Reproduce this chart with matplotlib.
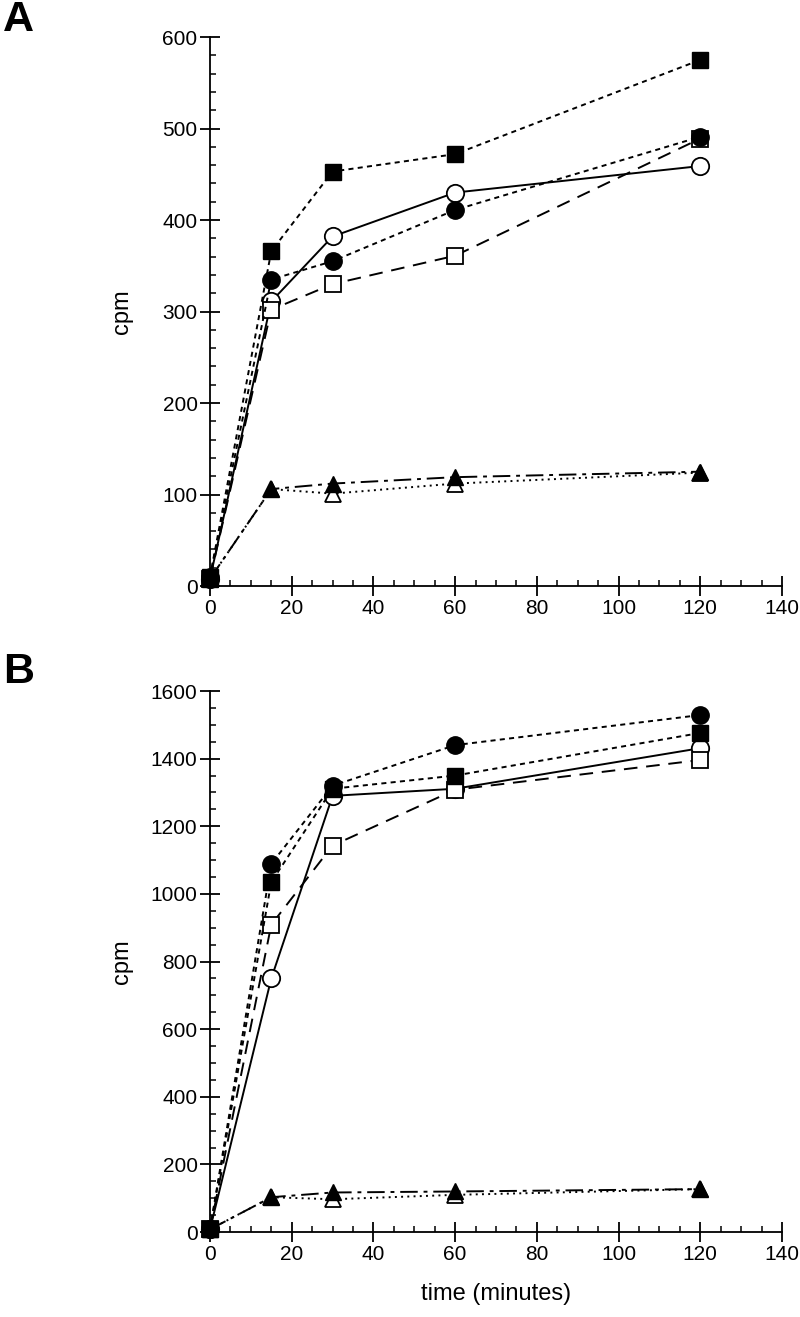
import matplotlib
matplotlib.use("Agg")
from matplotlib import pyplot as plt
from matplotlib.ticker import MultipleLocator

plt.rcParams['font.family'] = ['Liberation Sans', 'DejaVu Sans']

# time points (minutes)
t = [0, 15, 30, 60, 120]

# panel A values (cpm)
a_filled_sq = [10, 366, 453, 472, 575]
a_filled_ci = [10, 335, 355, 411, 491]
a_open_ci = [8, 311, 382, 430, 459]
a_open_sq = [8, 302, 330, 361, 489]
a_filled_tri = [8, 106, 112, 119, 125]
a_open_tri = [8, 106, 101, 112, 124]

# panel B values (cpm)
b_filled_ci = [8, 1089, 1320, 1440, 1529]
b_filled_sq = [8, 1035, 1311, 1350, 1476]
b_open_ci = [8, 750, 1290, 1311, 1431]
b_open_sq = [8, 909, 1143, 1308, 1396]
b_filled_tri = [8, 103, 117, 120, 127]
b_open_tri = [8, 103, 97, 110, 127]

lw = 1.4
ms = 12.5


def draw(ax, fsq, fci, oci, osq, ftri, otri):
    ax.plot(t, oci, color='black', lw=lw, ls='-', marker='o', ms=ms,
            mfc='white', mec='black', mew=1.3, clip_on=False, zorder=3)
    ax.plot(t, osq, color='black', lw=lw, dashes=(7, 4.5), marker='s', ms=ms - 1.5,
            mfc='white', mec='black', mew=1.3, clip_on=False, zorder=3)
    ax.plot(t, fci, color='black', lw=lw, dashes=(2.6, 2.2), marker='o', ms=ms,
            mfc='black', mec='black', clip_on=False, zorder=4)
    ax.plot(t, fsq, color='black', lw=lw, dashes=(2.6, 2.2), marker='s', ms=ms - 1.5,
            mfc='black', mec='black', clip_on=False, zorder=4)
    ax.plot(t, otri, color='black', lw=lw, dashes=(1, 2.2), marker='^', ms=ms - 1.5,
            mfc='white', mec='black', mew=1.3, clip_on=False, zorder=3)
    ax.plot(t, ftri, color='black', lw=lw, dashes=(9, 3, 2, 3), marker='^', ms=ms - 1.5,
            mfc='black', mec='black', clip_on=False, zorder=4)

    ax.set_xlim(0, 140)
    ax.spines['top'].set_visible(False)
    ax.spines['right'].set_visible(False)
    ax.spines['left'].set_linewidth(1.3)
    ax.spines['bottom'].set_linewidth(1.3)
    ax.xaxis.set_major_locator(MultipleLocator(20))
    ax.xaxis.set_minor_locator(MultipleLocator(5))
    ax.tick_params(which='major', direction='inout', length=14, width=1.3,
                   labelsize=15, pad=2)
    ax.tick_params(which='minor', direction='in', length=4, width=1.1)
    ax.set_ylabel('cpm', fontsize=17)
    ax.yaxis.set_label_coords(-0.135, 0.5)


fig = plt.figure(figsize=(8, 13.17), dpi=100)

ax1 = fig.add_axes([0.2625, 0.555, 0.715, 0.4169])
draw(ax1, a_filled_sq, a_filled_ci, a_open_ci, a_open_sq, a_filled_tri, a_open_tri)
ax1.set_ylim(0, 600)
ax1.yaxis.set_major_locator(MultipleLocator(100))
ax1.yaxis.set_minor_locator(MultipleLocator(20))

ax2 = fig.add_axes([0.2625, 0.0645, 0.715, 0.4108])
draw(ax2, b_filled_sq, b_filled_ci, b_open_ci, b_open_sq, b_filled_tri, b_open_tri)
ax2.set_ylim(0, 1600)
ax2.yaxis.set_major_locator(MultipleLocator(200))
ax2.yaxis.set_minor_locator(MultipleLocator(50))
ax2.set_xlabel('time (minutes)', fontsize=17, labelpad=14)

fig.text(0.004, 0.985, 'A', fontsize=31, fontweight='bold', va='center', ha='left')
fig.text(0.004, 0.490, 'B', fontsize=31, fontweight='bold', va='center', ha='left')

fig.savefig('out.png', dpi=100)
